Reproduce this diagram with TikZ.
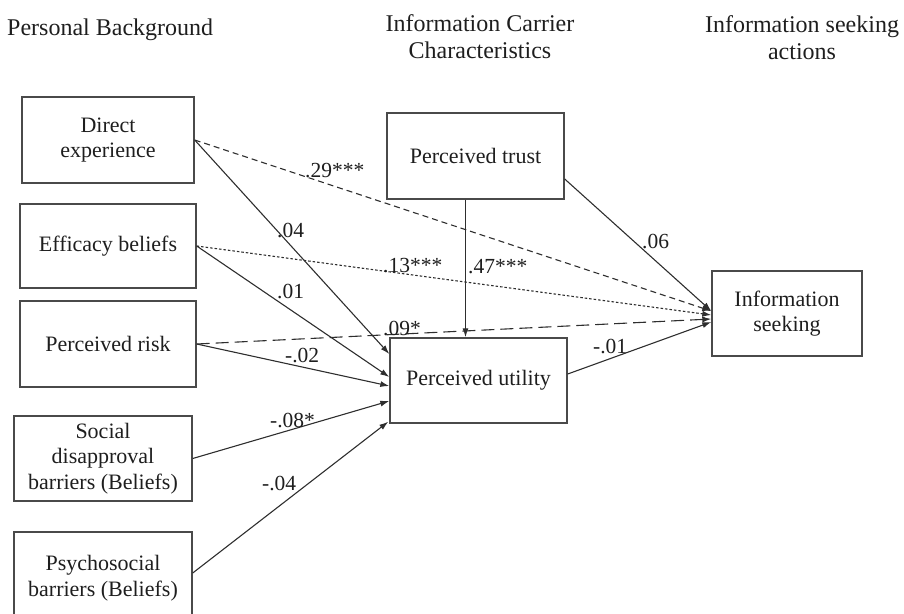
\documentclass[tikz,border=0pt]{standalone}
\usepackage{fontspec}
\setmainfont{Liberation Serif}
\usetikzlibrary{arrows.meta,calc}
\definecolor{txt}{HTML}{1E1E1E}
\definecolor{boxc}{HTML}{4A4A4A}
\definecolor{linec}{HTML}{2E2E2E}

\begin{document}
\begin{tikzpicture}[x=1pt,y=-1pt,
  box/.style={draw=boxc, line width=1.4pt, inner sep=0pt, align=center,
    text=txt, font=\fontsize{22}{25.5}\selectfont},
  header/.style={inner sep=0pt, align=center, text=txt,
    font=\fontsize{24}{27}\selectfont},
  lbl/.style={anchor=base west, inner sep=0pt, text=txt,
    font=\fontsize{21.5}{25}\selectfont},
  arr/.style={draw=linec, line width=1.1pt, -{Latex[length=9pt,width=6pt]}},
  shortdash/.style={dash pattern=on 6pt off 4pt},
  finedots/.style={dash pattern=on 2.5pt off 2pt},
  longdash/.style={dash pattern=on 13pt off 6pt}]

\useasboundingbox (0,0) rectangle (904,613);

% column headings
\node[header, anchor=base west] (hPB) at (7,35) {Personal Background};
\node[header, anchor=north] (hIC) at (480,14) {Information Carrier\\Characteristics};
\node[header, anchor=north] (hIS) at (802,15) {Information seeking\\actions};

% personal background
\node[box, minimum width=172pt, minimum height=86pt] (de) at (108,140) {Direct\\experience};
\node[box, minimum width=176pt, minimum height=84pt] (eb) at (108,246) {Efficacy beliefs};
\node[box, minimum width=176pt, minimum height=86pt] (pr) at (108,344) {Perceived risk};
\node[box, minimum width=178pt, minimum height=85pt] (sd) at (103,458.5) {Social\\disapproval\\barriers (Beliefs)};
\node[box, minimum width=178pt, minimum height=92pt] (ps) at (103,578) {Psychosocial\\barriers (Beliefs)};

% information carrier characteristics
\node[box, minimum width=177pt, minimum height=86pt] (pt) at (475.5,156) {Perceived trust};
\node[box, minimum width=177pt, minimum height=85pt] (pu) at (478.5,380.5) {Perceived utility};

% information seeking
\node[box, minimum width=150pt, minimum height=85pt] (is) at (787,313.5) {Information\\seeking};

% paths into perceived utility
\draw[arr] (de.east) -- ($(pu.west)+(0,-26.5)$);
\draw[arr] (eb.east) -- ($(pu.west)+(0,-3.5)$);
\draw[arr] (pr.east) -- ($(pu.west)+(0,5.5)$);
\draw[arr] (sd.east) -- ($(pu.west)+(0,20.5)$);
\draw[arr] ($(ps.east)+(0,-5)$) -- ($(pu.south west)+(-1,-2)$);
\draw[arr] ([xshift=-10pt]pt.south) -- ([xshift=-10pt]pt.south |- pu.north);

% paths into information seeking
\draw[arr, shortdash] (de.east) -- ($(is.west)+(0,-2.5)$);
\draw[arr, finedots] (eb.east) -- ($(is.west)+(0,1.5)$);
\draw[arr, longdash] (pr.east) -- ($(is.west)+(0,5.5)$);
\draw[arr] ($(pt.east)+(0,23)$) -- ($(is.west)+(0,-2.5)$);
\draw[arr] ($(pu.east)+(0,-6.5)$) -- ($(is.west)+(0,8.5)$);

% path coefficients
\node[lbl] (c29) at (305,177) {.29***};
\node[lbl] (c04) at (277,237) {.04};
\node[lbl] (c13) at (383,272) {.13***};
\node[lbl] (c01) at (277,298) {.01};
\node[lbl] (c09) at (383,335) {.09*};
\node[lbl] (c02) at (285,362) {-.02};
\node[lbl] (c08) at (270,427) {-.08*};
\node[lbl] (c04b) at (262,490) {-.04};
\node[lbl] (c47) at (468,273) {.47***};
\node[lbl] (c06) at (642,248) {.06};
\node[lbl] (c01b) at (593,353) {-.01};

\end{tikzpicture}
\end{document}
